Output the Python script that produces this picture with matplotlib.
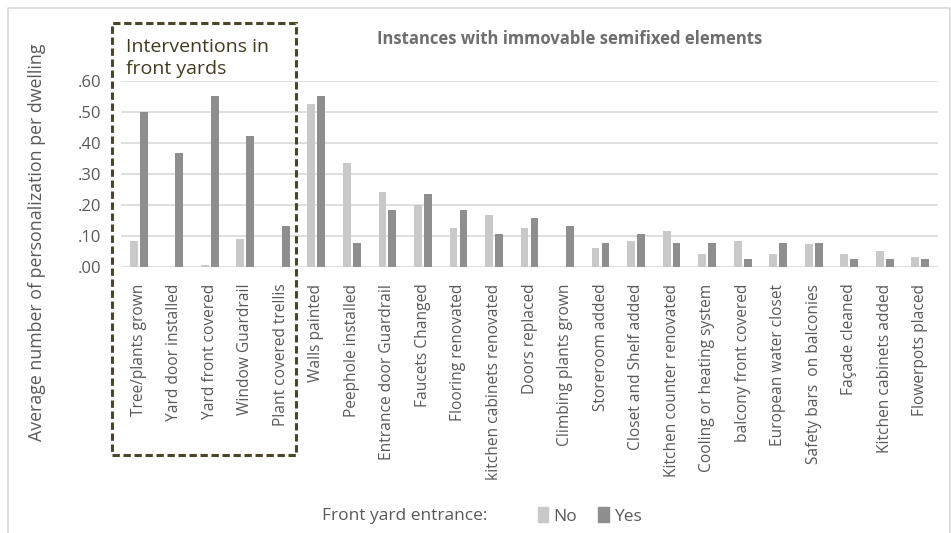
import matplotlib
matplotlib.use("Agg")
import matplotlib.pyplot as plt
from matplotlib.patches import Rectangle, Patch
from matplotlib.lines import Line2D
import numpy as np

categories = [
    "Tree/plants grown", "Yard door installed", "Yard front covered",
    "Window Guardrail", "Plant covered trellis", "Walls painted",
    "Peephole installed", "Entrance door Guardrail", "Faucets Changed",
    "Flooring renovated", "kitchen cabinets renovated", "Doors replaced",
    "Climbing plants grown", "Storeroom added", "Closet and Shelf added",
    "Kitchen counter renovated", "Cooling or heating system",
    "balcony front covered", "European water closet",
    "Safety bars  on balconies", "Façade cleaned", "Kitchen cabinets added",
    "Flowerpots placed",
]
no_values = [0.083, 0.0, 0.006, 0.091, 0.0, 0.527, 0.337, 0.242, 0.200,
             0.125, 0.168, 0.125, 0.0, 0.061, 0.084, 0.115, 0.041, 0.084,
             0.041, 0.073, 0.041, 0.052, 0.031]
yes_values = [0.500, 0.368, 0.553, 0.421, 0.132, 0.553, 0.079, 0.184, 0.237,
              0.184, 0.105, 0.158, 0.132, 0.079, 0.105, 0.079, 0.079, 0.026,
              0.079, 0.079, 0.026, 0.026, 0.026]
y_ticks = [0.0, 0.1, 0.2, 0.3, 0.4, 0.5, 0.6]
y_tick_labels = [".00", ".10", ".20", ".30", ".40", ".50", ".60"]

plt.rcParams['font.family'] = ['Open Sans', 'DejaVu Sans']

W, H = 951, 533
fig = plt.figure(figsize=(W / 100, H / 100), dpi=100)
ax = fig.add_axes([121 / W, 1 - 267 / H, (938 - 121) / W, (267 - 81) / H])

c_no = "#c9c9c9"
c_yes = "#8e8e8e"
text_grey = "#595959"

x = np.arange(len(categories))
bw = 0.22
ax.bar(x - 0.14, no_values, width=bw, color=c_no, zorder=3)
ax.bar(x + 0.14, yes_values, width=bw, color=c_yes, zorder=3)

ax.set_xlim(-0.5, len(categories) - 0.5)
ax.set_ylim(0, 0.6)
ax.set_yticks(y_ticks)
ax.set_yticklabels(y_tick_labels, color=text_grey, fontsize=12)
ax.set_xticks(x)
ax.set_xticklabels(categories, rotation=90, color=text_grey, fontsize=11.2)
ax.tick_params(axis='both', length=0)
ax.tick_params(axis='x', pad=12)
ax.tick_params(axis='y', pad=14)
ax.grid(axis='y', color="#d9d9d9", linewidth=1.2, zorder=0)
for s in ax.spines.values():
    s.set_visible(False)
ax.set_axisbelow(True)

ax.set_ylabel("Average number of personalization per dwelling", color=text_grey,
              fontsize=12.8)
ax.yaxis.set_label_coords(46 / W, 0.5, transform=fig.transFigure)
ax.yaxis.label.set_y(1 - 242 / H)

# outer chart border
fig.add_artist(Line2D([8 / W, 8 / W, 950 / W, 950 / W],
                      [0, 1 - 8 / H, 1 - 8 / H, 0],
                      transform=fig.transFigure, color="#d9d9d9", linewidth=1.2))

# dashed box around front yard group
box = Rectangle((112 / W, 1 - 455 / H), (296 - 112) / W, (455 - 23) / H,
                transform=fig.transFigure, fill=False, edgecolor="#4a4628",
                linewidth=2.2, linestyle=(0, (2.4, 1.2)))
fig.add_artist(box)

fig.text(126 / W, 1 - 58 / H, "Interventions in\nfront yards", color="#3f3c22",
         fontsize=14, ha='left', va='center', linespacing=1.3)

fig.text(570 / W, 1 - 39 / H, "Instances with immovable semifixed elements",
         color="#6e6e6e", fontsize=12, fontweight='bold', ha='center', va='center')

handles = [Patch(color=c_no, label="No"), Patch(color=c_yes, label="Yes")]
fig.text(322 / W, 1 - 516 / H, "Front yard entrance:", color=text_grey,
         fontsize=12.5, ha='left', va='center')
fig.legend(handles=handles, loc='center left', bbox_to_anchor=(538 / W, 1 - 516 / H),
           ncol=2, frameon=False, fontsize=12.5, handlelength=0.6, handleheight=0.9,
           handletextpad=0.3, columnspacing=1.2, labelcolor=text_grey,
           borderpad=0, borderaxespad=0)

fig.savefig("out.png", dpi=100)
